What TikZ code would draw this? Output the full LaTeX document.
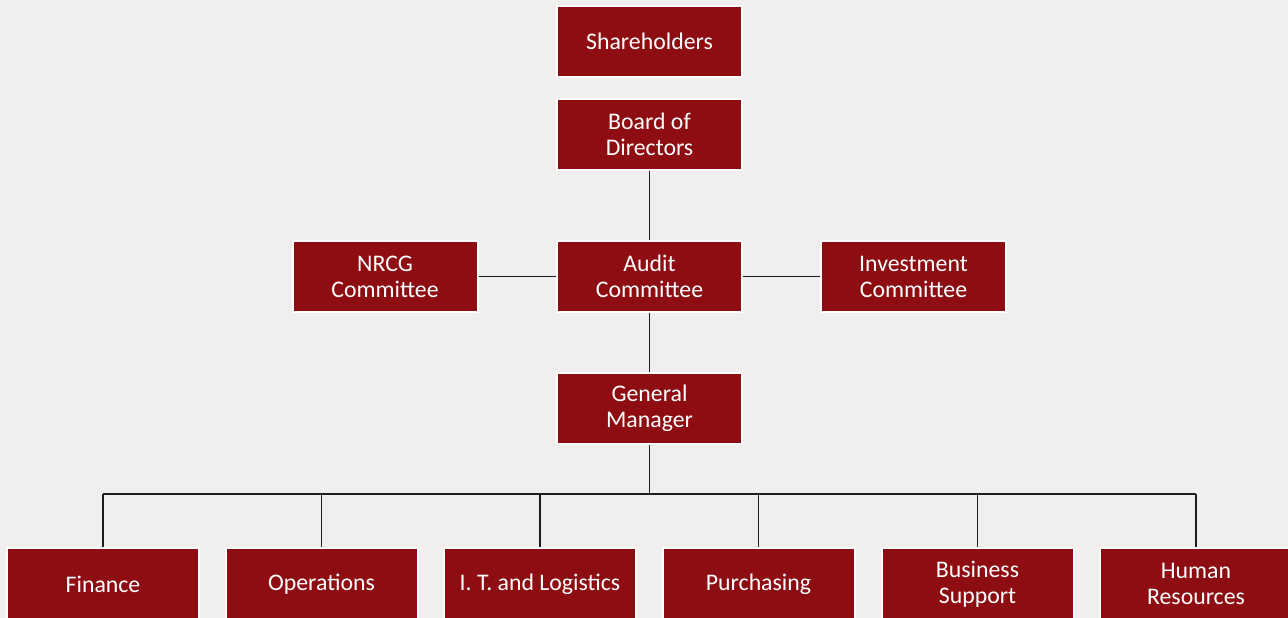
\documentclass[tikz,border=0pt]{standalone}
\usepackage{fontspec}
\setmainfont{Carlito}
\usetikzlibrary{positioning}
\definecolor{boxred}{RGB}{142,13,18}
\definecolor{paper}{RGB}{240,239,237}
\definecolor{wire}{RGB}{30,30,30}

\begin{document}
\begin{tikzpicture}[x=1pt,y=-1pt,
every node/.style={rectangle,draw=white,line width=2pt,fill=boxred,text=white,
  align=center,font=\fontsize{23.8}{26}\selectfont,inner sep=0pt},
topbox/.style={minimum width=185pt,minimum height=71pt},
unitbox/.style={minimum width=192pt,minimum height=72pt},
link/.style={draw=wire,line width=1.4pt}]
\fill[paper] (0,0) rectangle (1288,618);
\useasboundingbox (0,0) rectangle (1288,618);
% board level
\node[topbox] (SH) at (649.5,41.5) {Shareholders};
\node[topbox] (BD) at (649.5,134) {Board of\\Directors};
% committees
\node[topbox] (AC) at (649.5,276.5) {Audit\\Committee};
\node[topbox] (NC) at (385,276.5) {NRCG\\Committee};
\node[topbox] (IC) at (913.5,276.5) {Investment\\Committee};
\node[topbox] (GM) at (649.5,408.5) {General\\Manager};
% departments
\node[unitbox] (FN) at (103,584) {Finance};
\node[unitbox] (OP) at (321.5,584) {Operations};
\node[unitbox] (IT) at (540,584) {I. T. and Logistics};
\node[unitbox] (PU) at (758.5,584) {Purchasing};
\node[unitbox] (BS) at (977.5,584) {Business\\Support};
\node[unitbox] (HR) at (1196,584) {Human\\Resources};
\draw[link] (BD)--(AC)--(GM);
\draw[link] (NC)--(AC)--(IC);
\coordinate (bus) at (649.5,494);
\draw[link] (GM.south)--(bus);
\draw[link] (FN.north|-bus)--(HR.north|-bus);
\foreach \d in {FN,OP,IT,PU,BS,HR}
  \draw[link] (\d.north|-bus)--(\d.north);
\end{tikzpicture}
\end{document}
